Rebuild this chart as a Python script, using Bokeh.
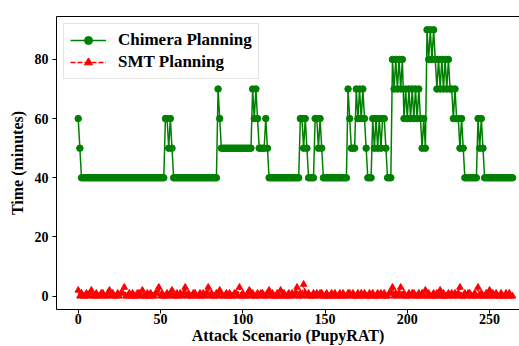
from bokeh.plotting import figure
from bokeh.models import LinearAxis, FixedTicker, Range1d
from bokeh.embed import file_html
from bokeh.resources import INLINE

chimera = [
    60, 50, 40, 40, 40, 40, 40, 40, 40, 40, 40, 40, 40, 40, 40, 40, 40, 40, 40, 40,
    40, 40, 40, 40, 40, 40, 40, 40, 40, 40, 40, 40, 40, 40, 40, 40, 40, 40, 40, 40,
    40, 40, 40, 40, 40, 40, 40, 40, 40, 40, 40, 40, 40, 60, 60, 50, 60, 50, 40, 40,
    40, 40, 40, 40, 40, 40, 40, 40, 40, 40, 40, 40, 40, 40, 40, 40, 40, 40, 40, 40,
    40, 40, 40, 40, 40, 70, 60, 50, 50, 50, 50, 50, 50, 50, 50, 50, 50, 50, 50, 50,
    50, 50, 50, 50, 50, 50, 70, 60, 70, 60, 50, 50, 50, 50, 60, 50, 40, 40, 40, 40,
    40, 40, 40, 40, 40, 40, 40, 40, 40, 40, 40, 40, 40, 40, 40, 60, 60, 50, 60, 50,
    40, 40, 40, 40, 60, 60, 50, 60, 50, 40, 40, 40, 40, 40, 40, 40, 40, 40, 40, 40,
    40, 40, 40, 40, 70, 60, 50, 50, 50, 70, 60, 70, 60, 70, 60, 50, 40, 40, 40, 60,
    50, 60, 50, 60, 50, 60, 60, 50, 40, 40, 40, 80, 70, 80, 70, 80, 70, 80, 60, 70,
    60, 70, 60, 70, 60, 70, 60, 70, 60, 50, 60, 50, 90, 80, 90, 80, 90, 80, 70, 80,
    70, 80, 70, 80, 70, 80, 70, 70, 60, 70, 60, 60, 50, 60, 50, 40, 40, 40, 40, 40,
    40, 40, 40, 60, 50, 60, 50, 40, 40, 40, 40, 40, 40, 40, 40, 40, 40, 40, 40, 40,
    40, 40, 40, 40, 40,
]

smt = [
    2, 0, 1, 0, 0, 1, 0, 1, 2, 0, 0, 1, 0, 0, 1, 1, 0, 0, 1, 2,
    0, 1, 0, 0, 1, 0, 1, 1, 3, 0, 0, 1, 0, 1, 0, 0, 1, 1, 0, 2,
    0, 0, 1, 0, 1, 0, 0, 1, 1, 3, 0, 1, 0, 0, 1, 0, 1, 2, 0, 0,
    1, 0, 1, 0, 1, 3, 0, 1, 0, 0, 1, 1, 0, 0, 1, 0, 1, 0, 1, 3,
    0, 1, 0, 0, 1, 0, 2, 1, 0, 0, 1, 0, 1, 0, 0, 1, 1, 0, 3, 0,
    1, 0, 0, 1, 2, 0, 1, 0, 0, 1, 0, 1, 1, 0, 0, 1, 2, 0, 1, 0,
    0, 1, 0, 2, 0, 1, 0, 0, 1, 0, 1, 0, 1, 3, 0, 1, 0, 4, 1, 0,
    1, 0, 0, 1, 0, 1, 0, 1, 1, 0, 0, 1, 0, 0, 1, 0, 1, 0, 0, 1,
    0, 1, 0, 0, 1, 1, 0, 1, 0, 0, 1, 0, 1, 0, 1, 0, 0, 1, 0, 1,
    0, 0, 1, 0, 1, 0, 1, 0, 0, 1, 1, 3, 0, 1, 0, 1, 3, 0, 1, 0,
    0, 1, 0, 1, 1, 0, 0, 1, 0, 1, 0, 2, 0, 1, 0, 0, 1, 0, 1, 0,
    2, 0, 1, 0, 0, 1, 0, 1, 0, 1, 0, 1, 3, 0, 0, 1, 0, 1, 1, 0,
    0, 1, 0, 3, 0, 1, 0, 0, 1, 0, 2, 0, 1, 0, 1, 0, 0, 1, 0, 0,
    1, 0, 1, 0, 0,
]

scenarios = list(range(len(chimera)))
x_ticks = [0, 50, 100, 150, 200, 250]
y_ticks = [0, 20, 40, 60, 80]

FONT = "Liberation Serif"

p = figure(width=519, height=346, output_backend="svg", toolbar_location=None,
           x_range=Range1d(-13.2, 268.2), y_range=Range1d(-4.5, 94.5),
           min_border_left=56, min_border_right=0, min_border_top=16,
           min_border_bottom=36)
p.background_fill_color = "white"
p.border_fill_color = "white"
p.outline_line_color = None
p.grid.visible = False

p.line(scenarios, chimera, line_color="green", line_width=1.5, legend_label="Chimera Planning")
p.scatter(scenarios, chimera, marker="circle", size=6.5, fill_color="green", line_color="green",
          legend_label="Chimera Planning")
p.line(scenarios, smt, line_color="red", line_width=1.5, line_dash="5 2", legend_label="SMT Planning")
p.scatter(scenarios, smt, marker="triangle", size=6.5, fill_color="red", line_color="red",
          legend_label="SMT Planning")

for ax in (p.xaxis[0], p.yaxis[0]):
    ax.major_label_text_font = FONT
    ax.major_label_text_font_style = "bold"
    ax.major_label_text_font_size = "14px"
    ax.major_label_text_color = "black"
    ax.axis_label_text_font = FONT
    ax.axis_label_text_font_style = "bold"
    ax.axis_label_text_font_size = "16px"
    ax.axis_label_text_color = "black"
    ax.minor_tick_line_color = None
    ax.major_tick_in = 0
    ax.major_tick_out = 4
    ax.axis_line_color = "black"
    ax.major_tick_line_color = "black"

p.xaxis[0].ticker = FixedTicker(ticks=x_ticks)
p.yaxis[0].ticker = FixedTicker(ticks=y_ticks)
p.xaxis[0].axis_label = "Attack Scenario (PupyRAT)"
p.yaxis[0].axis_label = "Time (minutes)"
p.xaxis[0].axis_label_standoff = 0
p.xaxis[0].major_label_standoff = 0
p.yaxis[0].axis_label_standoff = 6
p.yaxis[0].major_label_standoff = 4

top = LinearAxis(ticker=FixedTicker(ticks=[]), major_label_text_font_size="0px",
                 major_tick_line_color=None, minor_tick_line_color=None,
                 axis_line_color="black")
p.add_layout(top, "above")

lg = p.legend[0]
lg.location = "top_left"
lg.margin = 7
lg.padding = 6
lg.spacing = 2
lg.label_text_font = FONT
lg.label_text_font_style = "bold"
lg.label_text_font_size = "17px"
lg.label_text_color = "black"
lg.glyph_width = 36
lg.label_standoff = 12
lg.border_line_color = "#cccccc"
lg.border_line_width = 1
lg.background_fill_alpha = 0.8

open("out.html", "w").write(file_html(p, INLINE))
